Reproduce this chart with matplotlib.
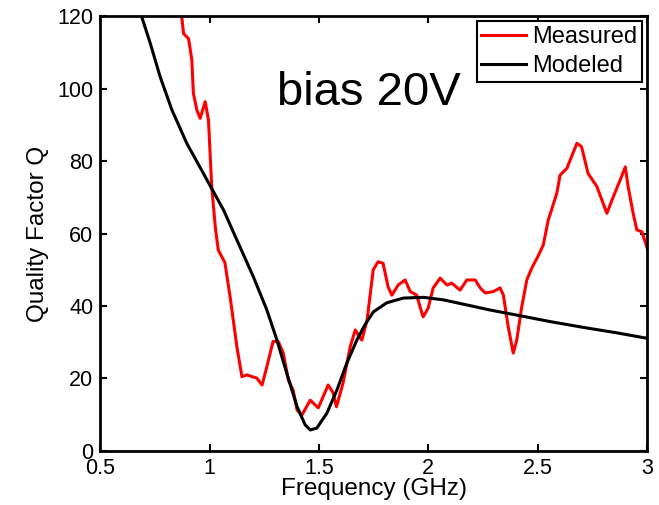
import numpy as np
import matplotlib.pyplot as plt

plt.rcParams['font.family'] = ['Liberation Sans', 'DejaVu Sans']

# measured Q
meas_f = [0.873, 0.881, 0.904, 0.919, 0.926, 0.942, 0.957, 0.98, 0.995, 1.01, 1.026,
          1.04, 1.07, 1.094, 1.125, 1.148, 1.17, 1.216, 1.24, 1.262, 1.29, 1.314,
          1.337, 1.36, 1.382, 1.40, 1.422, 1.46, 1.497, 1.542, 1.565, 1.58, 1.61,
          1.643, 1.666, 1.688, 1.696, 1.72, 1.748, 1.77, 1.793, 1.816, 1.833, 1.862,
          1.894, 1.917, 1.947, 1.962, 1.976, 1.999, 2.022, 2.054, 2.085, 2.107, 2.145,
          2.176, 2.214, 2.237, 2.26, 2.297, 2.328, 2.343, 2.365, 2.388, 2.404, 2.427,
          2.45, 2.473, 2.50, 2.525, 2.548, 2.587, 2.602, 2.633, 2.679, 2.70, 2.73,
          2.77, 2.816, 2.845, 2.877, 2.90, 2.913, 2.936, 2.953, 2.976, 3.0]
meas_q = [119.8, 115.2, 113.8, 107.9, 98.7, 94.1, 91.8, 96.4, 91.3, 72.9, 61.9,
          55.4, 52, 42.5, 28.7, 20.5, 21, 20.1, 18.2, 23.3, 30.2, 30.2,
          27, 19.6, 16.8, 11.3, 9.9, 14, 11.9, 18.2, 16, 12.2, 18.7,
          28.8, 33.4, 31.2, 30.6, 36.1, 50, 52.2, 51.8, 45.3, 43, 45.8,
          47.2, 44, 43, 39.8, 37, 39.4, 45, 47.7, 45.8, 46.3, 44.4,
          47.2, 47.2, 45, 43.6, 44, 45, 43, 34.3, 27, 30.6, 39.8,
          47.2, 50.5, 53.6, 56.8, 63.7, 71.1, 76.1, 78, 84.9, 84, 76.6,
          73, 65.6, 70.1, 74.8, 78.4, 73, 65.6, 61, 60.5, 56]

# modeled Q
model_f = [0.69, 0.729, 0.774, 0.828, 0.896, 0.98, 1.064, 1.125, 1.20, 1.262,
           1.308, 1.353, 1.40, 1.437, 1.46, 1.49, 1.536, 1.582, 1.627, 1.673,
           1.710, 1.749, 1.81, 1.886, 1.978, 2.069, 2.176, 2.282, 2.404, 2.557,
           2.709, 2.861, 3.0]
model_q = [119.8, 112.5, 103.3, 94.1, 84.9, 75.7, 66.5, 58.2, 48.1, 38.9,
           30.6, 21.4, 12.2, 7.2, 5.8, 6.3, 10.4, 16.8, 24.2, 30.6,
           34.8, 38.4, 40.9, 42.2, 42.4, 41.7, 40.3, 38.9, 37.5, 35.7,
           34.1, 32.6, 31.1]

fig = plt.figure(figsize=(6.59, 5.05), dpi=100)
ax = fig.add_axes([0.152, 0.107, 0.830, 0.861])

ax.plot(meas_f, meas_q, color='red', lw=2.2, label='Measured')
ax.plot(model_f, model_q, color='black', lw=2.2, label='Modeled')

ax.set_xlim(0.5, 3)
ax.set_ylim(0, 120)
ax.set_xticks([0.5, 1, 1.5, 2, 2.5, 3])
ax.set_xticklabels(['0.5', '1', '1.5', '2', '2.5', '3'])
ax.set_yticks(range(0, 121, 20))
ax.tick_params(direction='in', top=True, right=True, length=5, width=1.5,
               labelsize=15.5, pad=5)
for s in ax.spines.values():
    s.set_linewidth(2)

ax.set_xlabel('Frequency (GHz)', fontsize=17.5, labelpad=-1)
ax.set_ylabel('Quality Factor Q', fontsize=17.5, labelpad=6)

ax.text(1.31, 98.8, 'bias 20V', fontsize=34, va='center', ha='left')

leg = ax.legend(loc='upper right', fontsize=17, fancybox=False, framealpha=1,
                handlelength=1.9, handletextpad=0.25, borderpad=0.2,
                labelspacing=0.3, borderaxespad=0.22)
leg.get_frame().set_edgecolor('black')
leg.get_frame().set_linewidth(1.5)

fig.savefig('out.png', dpi=100)
